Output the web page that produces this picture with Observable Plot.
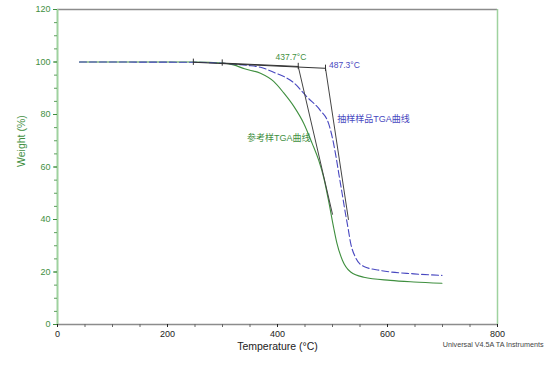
<!DOCTYPE html>
<html>
<head>
<meta charset="utf-8">
<script src="https://cdn.jsdelivr.net/npm/d3@7"></script>
<script src="https://cdn.jsdelivr.net/npm/@observablehq/plot@0.6"></script>
<style>
  html, body { margin: 0; padding: 0; background: #fff; }
</style>
</head>
<body>
<div id="chart"></div>
<script>
// Reference sample (green, solid)
const refTemp   = [40, 250, 300, 320, 340, 369, 393, 411, 430, 448, 463, 475, 484, 493, 502, 508, 518, 533, 557, 605, 648, 699];
const refWeight = [100, 100, 99.6, 98.9, 97.4, 95.7, 92.6, 88.3, 83, 76.5, 69, 62.5, 56, 47, 37, 31, 24.5, 20, 18, 16.8, 16.2, 15.7];
// Sampled product (blue, dashed)
const sampleTemp   = [40, 250, 300, 345, 369, 393, 430, 454, 478, 493, 499.5, 505.5, 511.5, 517.6, 523.6, 528, 533, 542, 557, 587, 648, 699];
const sampleWeight = [100, 99.9, 99.5, 98.7, 98, 96.1, 92, 86.6, 81.5, 76.5, 71.4, 65, 57.4, 49.8, 42.2, 37.1, 31, 25.5, 22.1, 20.6, 19.3, 18.7];
// Onset construction lines
const refOnset = 437.7;
const sampleOnset = 487.3;
const refBaseT = [299.5, 437.7];
const refBaseW = [99.6, 98.3];
const refSteepT = [437.7, 500];
const refSteepW = [98.3, 42];
const sampleBaseT = [247, 487.3];
const sampleBaseW = [99.9, 97.6];
const sampleSteepT = [487.3, 529];
const sampleSteepW = [97.6, 40];
const markT = [247, 299.5, 437.7, 487.3];
const markW = [99.9, 99.6, 98.3, 97.6];
// Ticks and labels
const xMajor = [0, 200, 400, 600, 800];
const yMajor = [0, 20, 40, 60, 80, 100, 120];
const refLabel = "参考样TGA曲线";
const sampleLabel = "抽样样品TGA曲线";
const xTitle = "Temperature (°C)";
const yTitle = "Weight (%)";
const caption = "Universal V4.5A TA Instruments";

const toRows = (ts, ws) => ts.map((t, i) => ({t, w: ws[i]}));
const ref = toRows(refTemp, refWeight);
const sample = toRows(sampleTemp, sampleWeight);
const marks = toRows(markT, markW);

const GREEN = "#3f8f3f";
const BLUE = "#4848c0";
const FONT = "Liberation Sans, Arial, Noto Sans CJK SC, sans-serif";

const chart = Plot.plot({
  width: 554,
  height: 369,
  marginLeft: 57,
  marginRight: 57,
  marginTop: 9,
  marginBottom: 45,
  x: {domain: [0, 800]},
  y: {domain: [0, 120]},
  style: {fontFamily: FONT, background: "#fff"},
  marks: [
    // frame
    Plot.ruleY([120], {stroke: "#8c8c8c", strokeWidth: 1.5}),
    Plot.ruleY([0], {stroke: "#8c8c8c", strokeWidth: 1.5}),
    Plot.ruleX([800], {stroke: "#9fd29f", strokeWidth: 1.5}),
    Plot.ruleX([0], {stroke: "#9fd29f", strokeWidth: 2}),
    // axes
    Plot.axisY({ticks: d3.range(0, 121, 5), tickSize: 3, tickFormat: () => "", label: null, color: "#5f9f5f"}),
    Plot.axisY({ticks: yMajor, tickSize: 4, tickPadding: 3, label: null, color: GREEN, fontSize: 9}),
    Plot.axisX({ticks: d3.range(0, 801, 50), tickSize: 3, tickFormat: () => "", label: null, color: "#666"}),
    Plot.axisX({ticks: xMajor, tickSize: 3, tickPadding: 3, label: null, color: "#222", fontSize: 9}),
    // curves
    Plot.line(ref, {x: "t", y: "w", stroke: GREEN, strokeWidth: 1.1, curve: "monotone-x"}),
    Plot.line(sample, {x: "t", y: "w", stroke: BLUE, strokeWidth: 1.1, strokeDasharray: "7,3", curve: "monotone-x"}),
    // onset construction
    Plot.line(toRows(sampleBaseT, sampleBaseW), {x: "t", y: "w", stroke: "#333", strokeWidth: 1}),
    Plot.line(toRows(refBaseT, refBaseW), {x: "t", y: "w", stroke: "#333", strokeWidth: 1}),
    Plot.line(toRows(refSteepT, refSteepW), {x: "t", y: "w", stroke: "#444", strokeWidth: 1}),
    Plot.line(toRows(sampleSteepT, sampleSteepW), {x: "t", y: "w", stroke: "#444", strokeWidth: 1}),
    Plot.ruleX(marks, {x: "t", y1: d => d.w - 1.2, y2: d => d.w + 1.2, stroke: "#333", strokeWidth: 1}),
    // annotations
    Plot.text([`${refOnset}°C`], {x: 396.4, y: 101.7, text: d => d, textAnchor: "start", fill: GREEN, fontSize: 8.5}),
    Plot.text([`${sampleOnset}°C`], {x: 493.6, y: 98.7, text: d => d, textAnchor: "start", fill: BLUE, fontSize: 8.5}),
    Plot.text([sampleLabel], {x: 508.5, y: 78.1, text: d => d, textAnchor: "start", fill: BLUE, fontSize: 9}),
    Plot.text([refLabel], {x: 344.5, y: 71.0, text: d => d, textAnchor: "start", fill: GREEN, fontSize: 9}),
    // titles
    Plot.text([xTitle], {x: 400, frameAnchor: "bottom", dy: 25, text: d => d, fill: "#222", fontSize: 10.5}),
    Plot.text([yTitle], {y: 60, frameAnchor: "left", dx: -36, rotate: -90, text: d => d, fill: GREEN, fontSize: 10.5}),
    Plot.text([caption], {x: 700.5, frameAnchor: "bottom", dy: 22, textAnchor: "start", text: d => d, fill: "#444", fontSize: 7.2})
  ]
});
document.getElementById("chart").appendChild(chart);
</script>
</body>
</html>
